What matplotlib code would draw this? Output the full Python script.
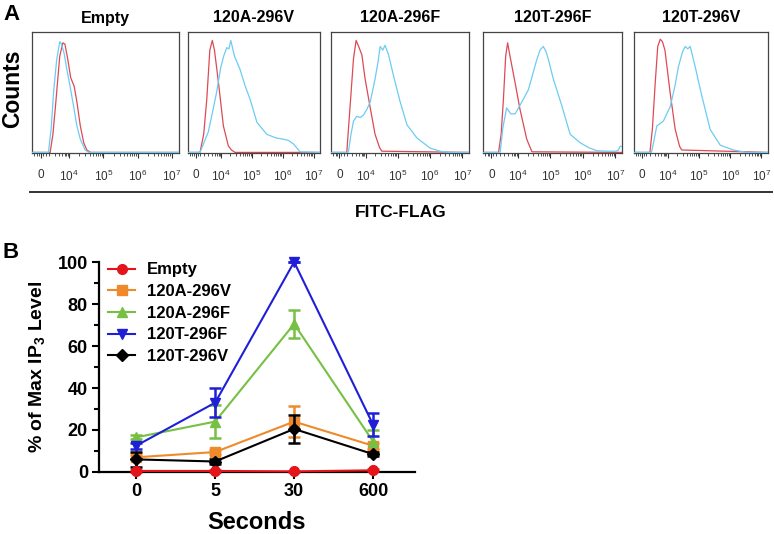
import matplotlib
matplotlib.use("Agg")
import matplotlib.pyplot as plt
from matplotlib.lines import Line2D
import numpy as np

plt.rcParams['font.family'] = ['Liberation Sans', 'DejaVu Sans']
plt.rcParams['mathtext.fontset'] = 'custom'
plt.rcParams['mathtext.rm'] = 'Liberation Sans'
plt.rcParams['mathtext.bf'] = 'Liberation Sans:bold'
plt.rcParams['mathtext.it'] = 'Liberation Sans:italic'

# ---------------- Panel A data (flow histograms, transformed axis units) ----------------
hist_titles = ["Empty", "120A-296V", "120A-296F", "120T-296F", "120T-296V"]
axis_tick_pos = [0.0, 0.82, 1.82, 2.82, 3.82]
axis_tick_labels = ["0", r"$10^4$", r"$10^5$", r"$10^6$", r"$10^7$"]

empty_red_u = [-0.26, 0.27, 0.35, 0.43, 0.55, 0.64, 0.7, 0.78, 0.87, 0.97, 1.05, 1.15, 1.25, 1.34, 1.45, 4.03]
empty_red_h = [0, 0, 0.15, 0.4, 0.8, 0.91, 0.9, 0.78, 0.62, 0.55, 0.42, 0.22, 0.08, 0.02, 0, 0]
empty_blue_u = [-0.26, 0.22, 0.3, 0.37, 0.46, 0.55, 0.6, 0.68, 0.75, 0.85, 0.95, 1.05, 1.15, 1.29, 1.4, 4.03]
empty_blue_h = [0, 0, 0.2, 0.5, 0.77, 0.92, 0.9, 0.82, 0.7, 0.55, 0.39, 0.22, 0.11, 0.02, 0, 0]

a296v_red_u = [-0.26, 0.13, 0.25, 0.35, 0.45, 0.53, 0.6, 0.73, 0.89, 1.05, 1.15, 1.27, 4.03]
a296v_red_h = [0, 0, 0.15, 0.44, 0.85, 0.93, 0.85, 0.58, 0.22, 0.055, 0.02, 0, 0]
a296v_blue_u = [-0.26, 0.13, 0.4, 0.55, 0.67, 0.8, 0.9, 1.0, 1.07, 1.13, 1.25, 1.43, 1.6, 1.76, 1.98,
                2.3, 2.6, 2.84, 3.0, 3.17, 3.3, 3.38, 4.03]
a296v_blue_h = [0, 0, 0.17, 0.35, 0.5, 0.7, 0.8, 0.87, 0.86, 0.93, 0.8, 0.69, 0.55, 0.44, 0.25,
                0.15, 0.12, 0.11, 0.1, 0.07, 0.03, 0.005, 0]

a296f_red_u = [-0.26, 0.23, 0.33, 0.44, 0.52, 0.6, 0.7, 0.8, 0.96, 1.11, 1.25, 1.32, 4.03]
a296f_red_h = [0, 0, 0.37, 0.78, 0.93, 0.88, 0.81, 0.61, 0.37, 0.15, 0.04, 0.01, 0]
a296f_blue_u = [-0.26, 0.28, 0.36, 0.44, 0.54, 0.65, 0.75, 0.86, 0.96, 1.11, 1.2, 1.27, 1.35, 1.42,
                1.53, 1.68, 1.89, 2.1, 2.41, 2.82, 3.13, 3.4, 4.03]
a296f_blue_h = [0, 0, 0.15, 0.26, 0.3, 0.29, 0.31, 0.36, 0.42, 0.61, 0.75, 0.88, 0.85, 0.89,
                0.81, 0.64, 0.42, 0.23, 0.12, 0.036, 0.01, 0, 0]

t296f_red_u = [-0.26, 0.22, 0.3, 0.37, 0.44, 0.5, 0.56, 0.63, 0.73, 0.88, 1.09, 1.25, 4.03]
t296f_red_h = [0, 0, 0.15, 0.44, 0.8, 0.91, 0.82, 0.72, 0.58, 0.36, 0.11, 0.005, 0]
t296f_blue_u = [-0.26, 0.27, 0.35, 0.47, 0.6, 0.73, 0.88, 1.14, 1.4, 1.5, 1.6, 1.68, 1.76, 1.91,
                2.17, 2.43, 2.74, 3.0, 3.25, 3.6, 3.85, 3.92, 3.97, 4.03]
t296f_blue_h = [0, 0, 0.2, 0.37, 0.32, 0.32, 0.39, 0.52, 0.77, 0.85, 0.88, 0.84, 0.77, 0.61,
                0.39, 0.15, 0.08, 0.04, 0.014, 0.01, 0.01, 0.02, 0.05, 0.05]

t296v_red_u = [-0.26, 0.25, 0.33, 0.42, 0.5, 0.58, 0.65, 0.73, 0.9, 1.06, 1.2, 1.27, 4.03]
t296v_red_h = [0, 0, 0.2, 0.58, 0.88, 0.94, 0.92, 0.85, 0.49, 0.19, 0.05, 0.02, 0]
t296v_blue_u = [-0.26, 0.3, 0.38, 0.47, 0.58, 0.68, 0.9, 1.05, 1.16, 1.3, 1.38, 1.46, 1.54, 1.7,
                1.91, 2.18, 2.5, 2.92, 3.35, 4.03]
t296v_blue_h = [0, 0, 0.1, 0.22, 0.24, 0.26, 0.38, 0.55, 0.71, 0.84, 0.88, 0.86, 0.88, 0.71,
                0.47, 0.19, 0.06, 0.02, 0, 0]

hist_red = [(empty_red_u, empty_red_h), (a296v_red_u, a296v_red_h), (a296f_red_u, a296f_red_h),
            (t296f_red_u, t296f_red_h), (t296v_red_u, t296v_red_h)]
hist_blue = [(empty_blue_u, empty_blue_h), (a296v_blue_u, a296v_blue_h), (a296f_blue_u, a296f_blue_h),
             (t296f_blue_u, t296f_blue_h), (t296v_blue_u, t296v_blue_h)]

# ---------------- Panel B data ----------------
time_labels = ["0", "5", "30", "600"]
series_names = ["Empty", "120A-296V", "120A-296F", "120T-296F", "120T-296V"]
empty_vals = [0.5, 0.5, 0.3, 0.8]
empty_err = [0.3, 0.3, 0.3, 0.4]
a296v_vals = [7, 9.5, 24, 12.5]
a296v_err = [1, 1, 7.5, 1.5]
a296f_vals = [16.5, 24, 70.5, 14.5]
a296f_err = [1, 8, 6.5, 5.5]
t296f_vals = [12.5, 33, 100, 22.5]
t296f_err = [1.5, 7, 0, 5.5]
t296v_vals = [6, 5, 20.5, 8.5]
t296v_err = [3.5, 1, 6.8, 1]

W, H = 774, 534
fig = plt.figure(figsize=(W / 100, H / 100), dpi=100)

def fx(x):
    return x / W

def fy(y):
    return 1 - y / H

# ---------------- Panel A ----------------
boxes = [(32, 179), (188, 320), (331, 469), (483, 622), (634, 768)]
box_top, box_bot = 32, 153
red_c = '#dc4a55'
blue_c = '#6cccf2'
log_minor = []
for d in range(3):
    for k in range(2, 10):
        log_minor.append(0.82 + d + np.log10(k))
lin_minor = [-0.2, -0.12, -0.06, 0.06, 0.14, 0.25, 0.4, 0.52, 0.62, 0.69, 0.74, 0.78]

for i, (l, r) in enumerate(boxes):
    ax = fig.add_axes([fx(l), fy(box_bot), fx(r - l), (box_bot - box_top) / H])
    ru, rh = hist_red[i]
    bu, bh = hist_blue[i]
    ax.plot(ru, rh, color=red_c, lw=0.9, zorder=2)
    ax.plot(bu, bh, color=blue_c, lw=0.9, zorder=3)
    ax.set_xlim(-0.26, 4.03)
    ax.set_ylim(-0.005, 1.0)
    ax.set_yticks([])
    ax.set_xticks(axis_tick_pos)
    ax.set_xticklabels(axis_tick_labels, fontsize=8.5, color='#222222')
    ax.set_xticks(log_minor + lin_minor, minor=True)
    ax.tick_params(axis='x', which='major', direction='out', length=3.5, width=0.8, pad=8, colors='#333333')
    ax.tick_params(axis='x', which='minor', direction='out', length=2, width=0.6, colors='#333333')
    for sp in ax.spines.values():
        sp.set_linewidth(0.9)
        sp.set_color('#444444')
    fig.text(fx((l + r) / 2), fy(18), hist_titles[i], ha='center', va='center',
             fontsize=11.5, fontweight='bold')

fig.text(fx(3), fy(14), "A", fontsize=16, fontweight='bold', ha='left', va='center')
fig.text(fx(13), fy(89), "Counts", fontsize=16.5, fontweight='bold', rotation=90,
         ha='center', va='center')
fig.add_artist(Line2D([fx(30), fx(772)], [fy(192), fy(192)], color='#333333', lw=1.4))
fig.text(fx(401), fy(212), "FITC-FLAG", fontsize=12.5, fontweight='bold', ha='center', va='center')

# ---------------- Panel B ----------------
fig.text(fx(3), fy(252), "B", fontsize=16, fontweight='bold', ha='left', va='center')
axb = fig.add_axes([fx(99), fy(472), fx(415 - 99), (472 - 262) / H])
x = np.arange(len(time_labels))
series_vals = [empty_vals, a296v_vals, a296f_vals, t296f_vals, t296v_vals]
series_err = [empty_err, a296v_err, a296f_err, t296f_err, t296v_err]
colors = ['#e3151b', '#ef8a2c', '#76c043', '#1f1fd8', '#000000']
markers = ['o', 's', '^', 'v', 'D']
msizes = [7, 6.5, 7, 7, 6]
zord = [8, 4, 5, 6, 7]
handles = []
for vals, err, c, m, ms, z, name in zip(series_vals, series_err, colors, markers, msizes, zord, series_names):
    axb.errorbar(x, vals, yerr=err, fmt='none', ecolor=c, elinewidth=1.8, capsize=4.5,
                 capthick=1.8, zorder=z, clip_on=False)
    ln, = axb.plot(x, vals, color=c, marker=m, markersize=ms, lw=1.5, zorder=z + 0.5,
                   clip_on=False, label=name)
    handles.append(ln)

axb.set_xlim(-0.47, 3.53)
axb.set_ylim(0, 100)
axb.set_xticks(x)
axb.set_xticklabels(time_labels, fontsize=13, fontweight='bold')
axb.set_yticks([0, 20, 40, 60, 80, 100])
axb.set_yticklabels(["0", "20", "40", "60", "80", "100"], fontsize=13, fontweight='bold')
axb.set_yticks([10, 30, 50, 70, 90], minor=True)
axb.tick_params(axis='both', which='major', direction='out', length=5, width=1.5, pad=3)
axb.tick_params(axis='y', which='minor', direction='out', length=3.5, width=1.5)
axb.spines['top'].set_visible(False)
axb.spines['right'].set_visible(False)
axb.spines['left'].set_linewidth(1.6)
axb.spines['bottom'].set_linewidth(1.6)
axb.set_xlabel("Seconds", fontsize=17, fontweight='bold', labelpad=8)
axb.set_ylabel(r"% of Max IP$_\mathbf{3}$ Level", fontsize=14, fontweight='bold', labelpad=8)
leg = axb.legend(handles=handles, loc='upper left', bbox_to_anchor=(0.03, 0.998), frameon=False,
                 prop={'weight': 'bold', 'size': 12}, handlelength=1.6, handletextpad=0.7,
                 labelspacing=0.4, borderpad=0, borderaxespad=0)

fig.savefig("out.png", dpi=100)
